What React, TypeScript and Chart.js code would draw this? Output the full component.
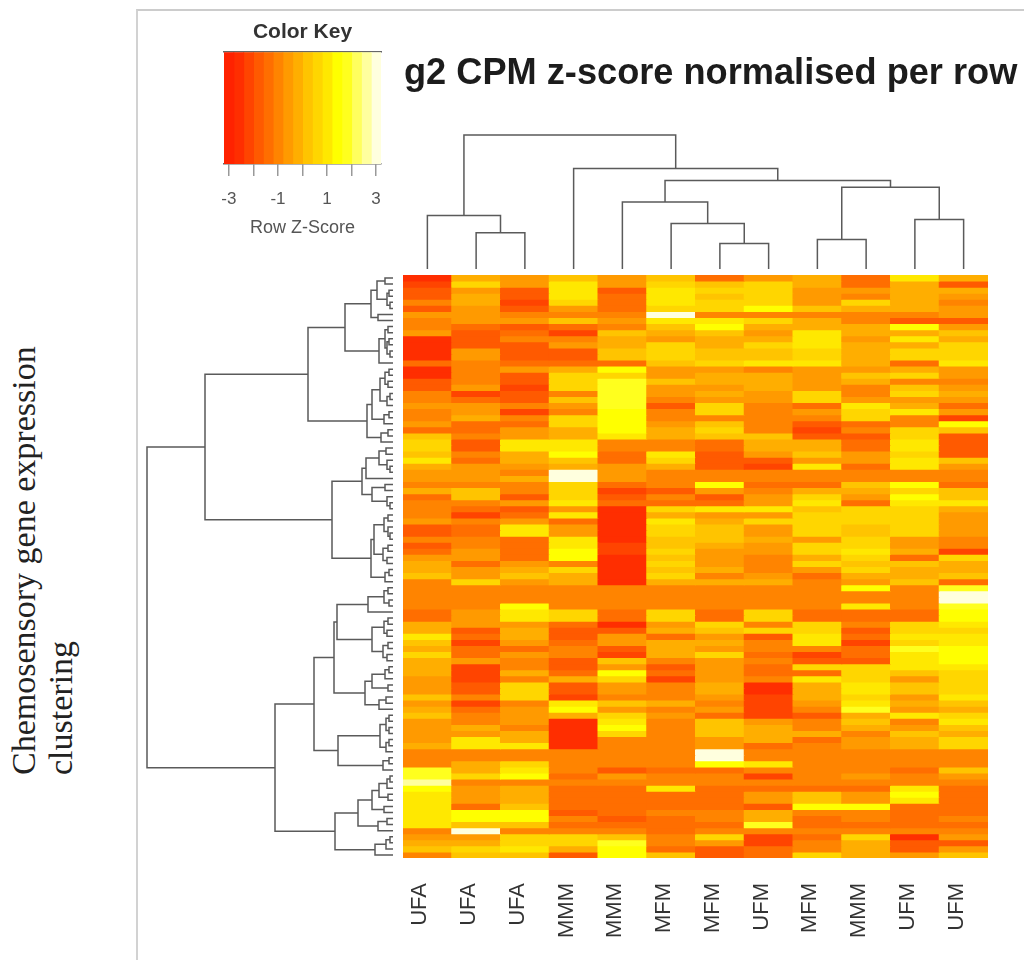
import React, { useEffect, useRef } from "react";
import { Chart, registerables } from "chart.js";

Chart.register(...registerables);

// Heatmap values: each number is the colour-key band of one cell (0 = z -3.0 ... 15 = z +3.0, 0.4 z per band).
const ufa1 = [
  1,2,3,3,5,3,6,5,5,6,1,1, 1,1,4,1,1,3,3,5,5,6,5,5, 6,4,8,9,9,8,10,7,6,6,5,7, 4,5,5,5,6,3,3,5,3,4,6,7,
  7,8,5,5,5,5,5,4,4,7,7,10, 8,7,9,7,7,7,6,6,6,8,6,7, 8,6,6,6,6,7,5,5,5,12,12,14, 11,10,10,10,10,10,10,5,6,7,8,5];
const ufa2 = [
  7,9,6,7,7,6,6,6,4,3,3,3, 6,6,5,5,5,5,6,2,4,6,6,7, 4,4,5,3,3,5,4,6,6,6,5,8, 8,5,4,2,5,4,4,5,5,6,6,4,
  6,6,9,5,5,5,5,6,6,6,3,4, 2,4,4,6,2,2,2,3,3,5,2,4, 5,5,7,6,10,10,5,5,7,7,9,5, 6,6,6,4,11,11,8,15,6,7,9,8];
const ufa3 = [
  6,6,3,3,2,3,5,6,3,4,5,3, 3,3,4,6,3,3,2,3,3,5,2,5, 4,6,6,10,10,7,7,6,5,7,5,5, 3,6,3,4,6,10,10,4,4,4,4,6,
  7,8,6,5,5,5,11,10,10,6,7,7, 6,4,6,5,5,7,5,9,9,9,5,6, 6,6,5,7,7,10,5,5,9,10,11,5, 7,7,7,8,11,11,8,5,9,9,10,8];
const mmm1 = [
  8,10,10,10,9,6,5,8,4,2,5,6, 3,3,4,7,9,9,9,5,8,6,5,9, 9,7,7,10,10,11,8,7,15,15,9,9, 9,10,6,10,4,6,6,10,10,11,11,5,
  9,7,7,5,5,5,5,9,9,4,3,3, 4,5,5,3,3,4,7,3,3,2,10,11, 7,1,1,1,1,1,5,5,5,5,4,5, 4,4,4,4,3,5,4,5,9,9,7,3];
const mmm2 = [
  6,6,3,4,4,4,5,6,5,8,7,7, 8,8,4,11,9,12,12,12,12,12,11,11, 11,11,10,5,5,4,4,6,6,6,4,2, 3,4,1,1,1,1,1,1,2,2,1,1,
  1,1,1,5,5,5,5,4,4,1,3,6, 6,3,2,8,6,11,9,6,6,5,8,6, 9,10,11,9,5,5,5,5,5,3,6,5, 4,4,4,4,4,3,4,5,8,12,11,11];
const mfm1 = [
  8,9,10,10,10,9,15,10,8,7,6,9, 9,9,8,6,6,8,6,6,5,3,5,5, 6,7,7,5,5,10,9,7,5,5,5,3, 5,4,9,7,10,9,9,8,8,9,8,9,
  8,9,7,5,5,5,5,9,9,6,7,4, 7,7,7,5,3,4,2,5,5,5,7,5, 6,5,5,5,5,5,5,5,5,4,5,5, 10,4,4,4,5,4,4,4,5,5,4,8];
const mfm2 = [
  4,8,9,8,9,9,5,10,11,8,7,7, 8,8,9,6,7,7,6,7,6,9,9,5, 8,9,8,4,4,3,3,3,5,5,11,6, 3,4,10,6,7,8,8,8,7,6,6,6,
  7,5,7,5,5,5,5,4,4,9,8,6, 7,6,9,6,6,6,6,7,7,6,5,6, 4,8,8,8,6,6,15,15,11,4,5,5, 4,4,4,4,5,5,4,5,9,6,3,3];
const ufm1 = [
  6,9,9,9,9,11,5,9,7,6,7,9, 8,8,10,5,7,7,7,6,6,5,5,5, 5,5,8,7,7,6,3,2,5,5,4,5, 6,6,10,6,9,6,6,7,6,6,5,5,
  5,6,7,5,5,5,5,9,9,5,9,3, 5,5,4,5,4,4,5,1,1,2,2,2, 2,6,7,7,7,4,5,5,10,5,2,5, 4,6,6,3,7,7,12,5,2,2,4,4];
const mfm3 = [
  7,7,6,6,6,8,5,7,7,10,10,10, 9,9,10,6,6,6,6,9,9,4,6,5, 3,2,3,7,7,8,6,10,5,5,4,7, 9,10,8,9,9,9,9,6,9,9,7,9,
  6,4,5,5,5,5,5,4,4,9,9,10, 10,5,2,3,9,4,10,7,7,7,6,5, 3,5,5,7,4,5,5,5,5,5,5,5, 4,8,8,11,5,4,4,5,4,5,5,9];
const mmm3 = [
  4,4,6,5,9,7,5,5,7,7,6,7, 7,7,7,6,8,7,5,5,6,10,9,9, 4,5,3,4,4,6,6,4,5,5,8,7, 6,4,9,9,9,8,8,9,9,10,9,8,
  9,7,6,11,5,5,10,4,4,5,3,4, 2,4,4,3,9,9,9,10,10,9,10,12, 7,8,7,5,6,6,5,5,5,5,6,5, 4,6,6,11,5,5,4,5,9,7,7,7];
const ufm2 = [
  10,7,7,7,7,7,5,3,11,7,10,7, 9,9,4,7,9,5,8,9,6,7,10,5, 5,9,9,10,10,9,10,10,5,5,11,9, 11,10,9,9,9,9,9,6,6,7,4,8,
  7,7,8,5,5,5,5,4,4,9,9,10, 9,12,10,10,10,8,6,8,8,6,7,6, 10,5,6,8,7,7,5,5,5,4,5,5, 10,11,10,4,4,4,4,5,1,3,3,6];
const ufm3 = [
  7,3,7,6,5,6,6,3,6,8,7,9, 9,9,10,6,6,5,6,7,6,4,6,2, 11,8,3,3,3,3,8,6,5,5,4,8, 8,10,7,6,6,6,6,5,5,2,9,7,
  7,8,4,12,15,15,12,11,11,10,9,10, 10,11,11,11,10,9,9,9,9,10,8,7, 9,10,8,7,9,9,5,5,5,8,6,5, 4,4,4,4,4,5,4,5,6,3,6,8];

const columnValues = [ufa1, ufa2, ufa3, mmm1, mmm2, mfm1, mfm2, ufm1, mfm3, mmm3, ufm2, ufm3];
const columnLabels = ["UFA", "UFA", "UFA", "MMM", "MMM", "MFM", "MFM", "UFM", "MFM", "MMM", "UFM", "UFM"];
const rowCount = 96;

// Colour key
const keyPalette = [
  "#ff2200", "#ff2e00", "#ff4400", "#ff5a00", "#ff6e00", "#ff8400", "#ff9a00", "#ffae00",
  "#ffc400", "#ffd600", "#ffe800", "#ffff00", "#ffff1e", "#ffff5e", "#ffff9e", "#ffffde",
];
const keyBreaks = [-3.2, -2.8, -2.4, -2, -1.6, -1.2, -0.8, -0.4, 0, 0.4, 0.8, 1.2, 1.6, 2, 2.4, 2.8, 3.2];
const keyTicks = [-3, -2, -1, 0, 1, 2, 3];
const keyLabels = ["-3", "", "-1", "", "1", "", "3"];

// Dendrograms: a node is [merge height, left child, right child], and 0 is a leaf.
const colTree = [10, [4.0, 0, [2.7, 0, 0]],
  [7.5, 0, [6.6, [5.0, 0, [3.4, 0, [1.9, 0, 0]]], [6.1, [2.2, 0, 0], [3.7, 0, 0]]]]];

const clusterA = [22, [16, [8, 0, 0], [6, [4, 0, 0], [3, 0, 0]]], [15, 0, 0]];
const clusterB = [14, [8, [5, 0, 0], [6, [4, 0, 0], [3, 0, 0]]], 0];
const clusterC1 = [13, [8, [4, 0, 0], [5, 0, 0]], [6, [3, 0, 0], 0]];
const clusterC2 = [9, [4, 0, 0], 0];
const clusterC3 = [12, [5, 0, 0], 0];
const clusterD = [31, [27, [14, [7, 0, 0], [6, 0, [3, 0, 0]]], 0], [21, [8, 0, 0], [6, 0, [3, 0, 0]]]];
const clusterE = [22, [19, [9, [5, 0, 0], [5, 0, [3, 0, 0]]], [10, [5, 0, 0], [6, 0, 0]]], [8, [4, 0, 0], 0]];
const clusterF = [25, [9, [5, 0, 0], [4, 0, 0]], 0];
const clusterG = [21, [9, [5, 0, 0], [6, 0, 0]], [10, [5, 0, 0], [6, 0, 0]]];
const clusterH = [28, [21, [8, [4, 0, 0], 0], [5, 0, 0]], [14, [7, 0, 0], 0]];
const clusterI = [13, [7, [4, 0, 0], [4, 0, 0]], [7, [4, 0, 0], 0]];
const clusterJ = [10, [4, 0, 0], 0];
const clusterK1 = [21, [14, [6, [3, 0, 0], 0], [5, 0, 0]], [9, 0, 0]];
const clusterK2 = [15, [6, 0, 0], 0];
const clusterL = [18, [7, [3, 0, 0], 0], 0];

const rowTree = [246,
  [188,
    [85, [48, clusterA, clusterB], [26, [21, clusterC1, clusterC2], clusterC3]],
    [61, clusterD, clusterE]],
  [118,
    [79, [59, [56, clusterF, clusterG], clusterH], [55, clusterI, clusterJ]],
    [58, [35, clusterK1, clusterK2], clusterL]]];

const lineColor = "#5a5a5a";

function treeSegments(tree: any) {
  const segs: { pos: number; h: number }[] = [];
  let leaf = 0;
  const walk = (n: any): { pos: number; h: number } => {
    if (n === 0) {
      const p = { pos: leaf + 0.5, h: 0 };
      leaf += 1;
      return p;
    }
    const a = walk(n[1]);
    const b = walk(n[2]);
    segs.push(
      { pos: a.pos, h: a.h }, { pos: a.pos, h: n[0] },
      { pos: b.pos, h: n[0] }, { pos: b.pos, h: b.h },
      { pos: NaN, h: NaN },
    );
    return { pos: (a.pos + b.pos) / 2, h: n[0] };
  };
  walk(tree);
  return segs;
}

const hidden = { display: false };

export default function App() {
  const keyRef = useRef<HTMLCanvasElement>(null);
  const colRef = useRef<HTMLCanvasElement>(null);
  const rowRef = useRef<HTMLCanvasElement>(null);
  const heatRef = useRef<HTMLCanvasElement>(null);

  useEffect(() => {
    const base = { responsive: false, animation: false as const, plugins: { legend: hidden, tooltip: { enabled: false } } };

    const heat = new Chart(heatRef.current!, {
      type: "bar",
      data: {
        labels: columnLabels,
        datasets: Array.from({ length: rowCount }, (_, r) => ({
          data: columnLabels.map(() => [r, r + 1]),
          backgroundColor: columnValues.map((c) => keyPalette[c[r]]),
          borderWidth: 0,
          inflateAmount: 0.5,
          barPercentage: 1,
          categoryPercentage: 1,
          grouped: false,
        })),
      } as any,
      options: {
        ...base,
        layout: { padding: 0 },
        scales: {
          x: {
            grid: { display: false, drawTicks: false },
            border: { display: false },
            ticks: {
              autoSkip: false, maxRotation: 90, minRotation: 90, padding: 25, labelOffset: -7,
              color: "#333", font: { family: "Liberation Sans", size: 22 },
            },
            afterFit: (s: any) => { s.height = 102; s.paddingLeft = 0; s.paddingRight = 0; },
          },
          y: { display: false, reverse: true, min: 0, max: rowCount },
        },
      } as any,
    });

    const dendro = (el: HTMLCanvasElement, data: any[], scales: any) =>
      new Chart(el, {
        type: "scatter",
        data: {
          datasets: [{
            data, showLine: true, pointRadius: 0, borderColor: lineColor, borderWidth: 1.5, spanGaps: false,
          }],
        },
        options: { ...base, layout: { padding: 0 }, scales } as any,
      });

    const col = dendro(
      colRef.current!,
      treeSegments(colTree).map((p) => ({ x: p.pos, y: p.h })),
      { x: { display: false, min: 0, max: 12 }, y: { display: false, min: 0, max: 10.37 } },
    );
    const row = dendro(
      rowRef.current!,
      treeSegments(rowTree).map((p) => ({ x: p.h, y: p.pos })),
      { x: { display: false, reverse: true, min: 0, max: 253 }, y: { display: false, reverse: true, min: 0, max: rowCount } },
    );

    const key = new Chart(keyRef.current!, {
      type: "bar",
      data: {
        labels: ["key"],
        datasets: keyPalette.map((color, i) => ({
          data: [[keyBreaks[i], keyBreaks[i + 1]]],
          backgroundColor: color,
          borderWidth: 0,
          inflateAmount: 0.5,
          barPercentage: 1,
          categoryPercentage: 1,
          grouped: false,
        })),
      } as any,
      options: {
        ...base,
        indexAxis: "y",
        layout: { padding: { left: 44, right: 44 } },
        plugins: {
          ...base.plugins,
          title: {
            display: true, text: "Color Key", color: "#333",
            font: { family: "Liberation Sans", size: 21, weight: "bold" },
            padding: { top: 0, bottom: 7 },
          },
        },
        scales: {
          y: { display: false },
          xTop: {
            axis: "x", position: "top", min: -3.2, max: 3.2,
            ticks: { display: false }, grid: { display: false, drawTicks: false },
            border: { display: true, color: "#666", width: 1.5 },
            afterFit: (s: any) => { s.height = 0; },
          },
          x: {
            position: "bottom", min: -3.2, max: 3.2,
            afterBuildTicks: (s: any) => { s.ticks = keyTicks.map((value) => ({ value })); },
            ticks: {
              autoSkip: false, maxRotation: 0, padding: 13, color: "#555",
              font: { family: "Liberation Sans", size: 17 },
              callback: (v: any) => keyLabels[keyTicks.indexOf(Number(v))] ?? "",
            },
            grid: { drawOnChartArea: false, drawTicks: true, tickLength: 12, tickColor: "#999", lineWidth: 1.5 },
            border: { display: true, color: "#666", width: 1.5 },
            title: {
              display: true, text: "Row Z-Score", color: "#555",
              font: { family: "Liberation Sans", size: 18 }, padding: { top: 0, bottom: 1 },
            },
            afterFit: (s: any) => { s.height = 76; },
          },
        },
      } as any,
    });

    return () => { heat.destroy(); col.destroy(); row.destroy(); key.destroy(); };
  }, []);

  const abs = (left: number, top: number): React.CSSProperties => ({ position: "absolute", left, top, display: "block" });
  const sideText: React.CSSProperties = {
    position: "absolute", transformOrigin: "0 0", transform: "rotate(-90deg)", whiteSpace: "nowrap",
    fontFamily: "'Liberation Serif'", fontSize: 34, lineHeight: "40px", color: "#222",
  };

  return (
    <div style={{ position: "absolute", left: 0, top: 0, width: 1024, height: 960, overflow: "hidden", background: "#fff" }}>
      <div style={{ position: "absolute", left: 136, top: 9, width: 900, height: 960, borderLeft: "2px solid #d2d2d2", borderTop: "2px solid #cccccc" }} />
      <div style={{ ...sideText, left: 4, top: 775 }}>Chemosensory gene expression</div>
      <div style={{ ...sideText, left: 41, top: 775 }}>clustering</div>
      <div style={{
        position: "absolute", left: 404, top: 52, whiteSpace: "nowrap", fontFamily: "'Liberation Sans'",
        fontWeight: 700, fontSize: 36.2, lineHeight: "40px", color: "#1c1c1c", filter: "blur(0.4px)",
      }}>g2 CPM z-score normalised per row</div>
      <div style={{ position: "absolute", left: 0, top: 0, width: 1024, height: 960, filter: "blur(0.6px)" }}>
        <canvas ref={keyRef} width={245} height={220} style={abs(180, 20)} />
        <canvas ref={colRef} width={585} height={139} style={abs(403, 130)} />
        <canvas ref={rowRef} width={253} height={583} style={abs(140, 275)} />
        <canvas ref={heatRef} width={585} height={685} style={abs(403, 275)} />
      </div>
    </div>
  );
}
